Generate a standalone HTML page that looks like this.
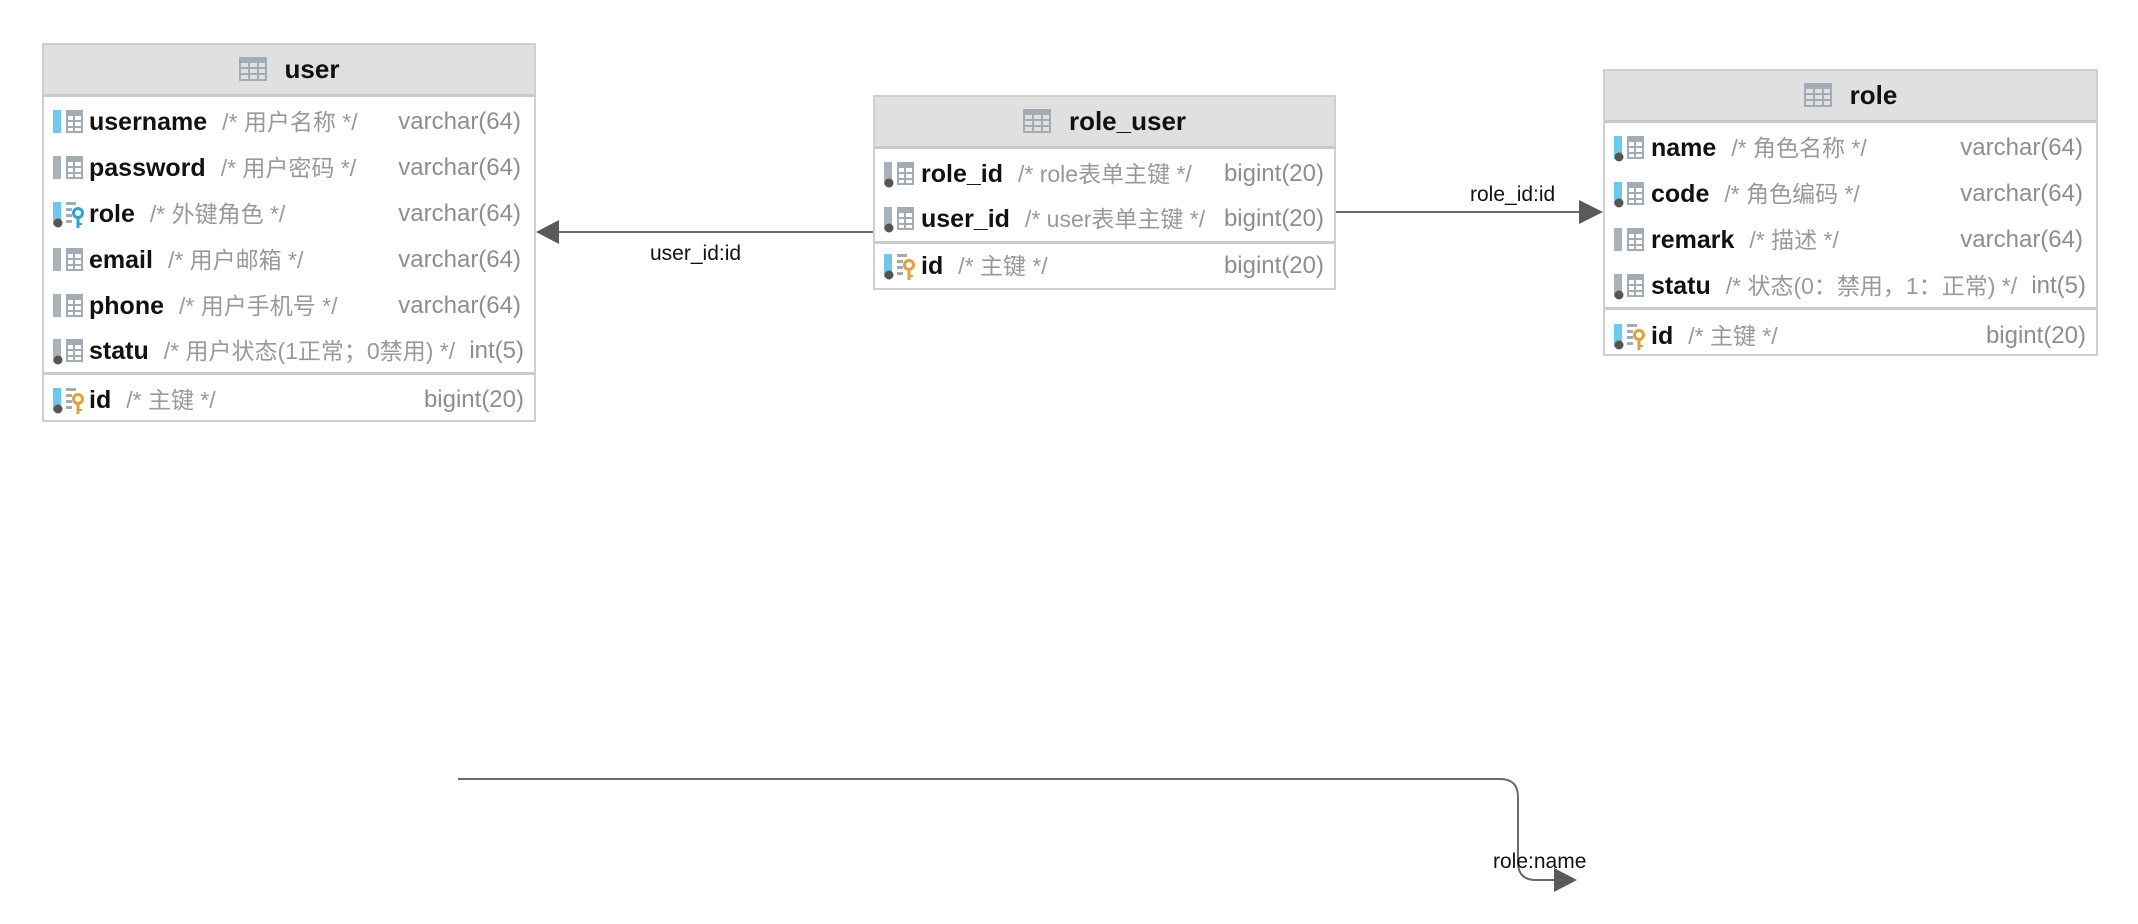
<!DOCTYPE html>
<html><head><meta charset="utf-8">
<style>
body{margin:0;width:2138px;height:924px;background:#fff;position:relative;overflow:hidden;font-family:"Liberation Sans","Noto Sans CJK SC",sans-serif;}
.t{position:absolute;border:2px solid #cfcfcf;background:#fff;box-sizing:border-box;}
.h{position:absolute;left:0;right:0;top:0;background:#e0e0e0;border-bottom:3px solid #c9c9c9;box-sizing:border-box;}
.ht{position:absolute;left:0;right:0;top:0;bottom:0;display:flex;align-items:center;justify-content:center;font-weight:bold;font-size:26px;color:#111;}
.ht svg{margin-right:16px}
.sep{position:absolute;left:0;right:0;height:3px;background:#cbcbcb;}
.r{position:absolute;left:0;right:0;height:30px;line-height:30px;font-size:24px;white-space:nowrap;}
.r svg{position:absolute;left:9px;top:3px;}
.n{position:absolute;font-weight:bold;color:#111;font-size:25px;}
.n i{font-style:normal;font-weight:normal;color:#999;margin-left:15px;font-size:23px;}
.ty{position:absolute;color:#8e8e8e;}
.lbl{position:absolute;font-size:21px;color:#111;font-family:"Liberation Sans",sans-serif;line-height:24px;}
</style></head><body>
<svg width="0" height="0" style="position:absolute">
<defs>
<symbol id="grid" viewBox="0 0 30 26"><rect x="12" y="0" width="17" height="23" fill="#a3acb4"/><rect x="14" y="6" width="5" height="4" fill="#fff"/><rect x="21" y="6" width="6" height="4" fill="#fff"/><rect x="14" y="12" width="5" height="4" fill="#fff"/><rect x="21" y="12" width="6" height="4" fill="#fff"/><rect x="14" y="18" width="5" height="3" fill="#fff"/><rect x="21" y="18" width="6" height="3" fill="#fff"/></symbol>
<symbol id="dot" viewBox="0 0 30 26"><circle cx="4" cy="21" r="4.5" fill="#555"/></symbol>
<symbol id="keyg" viewBox="0 0 30 26"><rect x="12" y="0" width="10" height="3" fill="#a3acb4"/><rect x="12" y="6" width="6" height="3" fill="#a3acb4"/><rect x="12" y="12" width="6" height="3" fill="#a3acb4"/><rect x="12" y="18" width="6" height="3" fill="#a3acb4"/></symbol>
<symbol id="hicon" viewBox="0 0 30 26"><rect x="0" y="0" width="28" height="24" fill="#a3acb4"/><rect x="2" y="6" width="7" height="4" fill="#e0e0e0"/><rect x="11" y="6" width="7" height="4" fill="#e0e0e0"/><rect x="20" y="6" width="6" height="4" fill="#e0e0e0"/><rect x="2" y="12" width="7" height="4" fill="#e0e0e0"/><rect x="11" y="12" width="7" height="4" fill="#e0e0e0"/><rect x="20" y="12" width="6" height="4" fill="#e0e0e0"/><rect x="2" y="18" width="7" height="4" fill="#e0e0e0"/><rect x="11" y="18" width="7" height="4" fill="#e0e0e0"/><rect x="20" y="18" width="6" height="4" fill="#e0e0e0"/></symbol>
</defs></svg>

<!-- user -->
<div class="t" style="left:42px;top:43px;width:494px;height:379px;">
 <div class="h" style="height:52px"><div class="ht"><svg width="30" height="26"><use href="#hicon"/></svg>user</div></div>
 <div class="r" style="top:62px"><svg width="32" height="26"><rect x="0" y="0" width="8" height="23" fill="#6ec8ea"/><use href="#grid"/></svg><span class="n" style="left:45px">username<i>/* 用户名称 */</i></span><span class="ty" style="right:13px">varchar(64)</span></div>
 <div class="r" style="top:108px"><svg width="32" height="26"><rect x="0" y="0" width="8" height="23" fill="#aab3ba"/><use href="#grid"/></svg><span class="n" style="left:45px">password<i>/* 用户密码 */</i></span><span class="ty" style="right:13px">varchar(64)</span></div>
 <div class="r" style="top:154px"><svg width="32" height="26"><rect x="0" y="0" width="8" height="23" fill="#6ec8ea"/><use href="#keyg"/><circle cx="25" cy="11" r="4.5" fill="none" stroke="#2aa4d8" stroke-width="3"/><rect x="23.5" y="15" width="3" height="11" fill="#2aa4d8"/><rect x="26" y="21" width="3" height="2" fill="#2aa4d8"/><use href="#dot"/></svg><span class="n" style="left:45px">role<i>/* 外键角色 */</i></span><span class="ty" style="right:13px">varchar(64)</span></div>
 <div class="r" style="top:200px"><svg width="32" height="26"><rect x="0" y="0" width="8" height="23" fill="#aab3ba"/><use href="#grid"/></svg><span class="n" style="left:45px">email<i>/* 用户邮箱 */</i></span><span class="ty" style="right:13px">varchar(64)</span></div>
 <div class="r" style="top:246px"><svg width="32" height="26"><rect x="0" y="0" width="8" height="23" fill="#aab3ba"/><use href="#grid"/></svg><span class="n" style="left:45px">phone<i>/* 用户手机号 */</i></span><span class="ty" style="right:13px">varchar(64)</span></div>
 <div class="r" style="top:291px"><svg width="32" height="26"><rect x="0" y="0" width="8" height="23" fill="#aab3ba"/><use href="#grid"/><use href="#dot"/></svg><span class="n" style="left:45px">statu<i>/* 用户状态(1正常；0禁用) */</i></span><span class="ty" style="right:10px">int(5)</span></div>
 <div class="sep" style="top:327px"></div>
 <div class="r" style="top:340px"><svg width="32" height="26"><rect x="0" y="0" width="8" height="23" fill="#6ec8ea"/><use href="#keyg"/><circle cx="25" cy="11" r="4.5" fill="none" stroke="#e0a23a" stroke-width="3"/><rect x="23.5" y="15" width="3" height="11" fill="#e0a23a"/><rect x="26" y="21" width="3" height="2" fill="#e0a23a"/><use href="#dot"/></svg><span class="n" style="left:45px">id<i>/* 主键 */</i></span><span class="ty" style="right:10px">bigint(20)</span></div>
</div>

<!-- role_user -->
<div class="t" style="left:873px;top:95px;width:463px;height:195px;">
 <div class="h" style="height:52px"><div class="ht"><svg width="30" height="26"><use href="#hicon"/></svg>role_user</div></div>
 <div class="r" style="top:62px"><svg width="32" height="26"><rect x="0" y="0" width="8" height="23" fill="#aab3ba"/><use href="#grid"/><use href="#dot"/></svg><span class="n" style="left:46px">role_id<i>/* role表单主键 */</i></span><span class="ty" style="right:10px">bigint(20)</span></div>
 <div class="r" style="top:107px"><svg width="32" height="26"><rect x="0" y="0" width="8" height="23" fill="#aab3ba"/><use href="#grid"/><use href="#dot"/></svg><span class="n" style="left:46px">user_id<i>/* user表单主键 */</i></span><span class="ty" style="right:10px">bigint(20)</span></div>
 <div class="sep" style="top:144px"></div>
 <div class="r" style="top:154px"><svg width="32" height="26"><rect x="0" y="0" width="8" height="23" fill="#6ec8ea"/><use href="#keyg"/><circle cx="25" cy="11" r="4.5" fill="none" stroke="#e0a23a" stroke-width="3"/><rect x="23.5" y="15" width="3" height="11" fill="#e0a23a"/><rect x="26" y="21" width="3" height="2" fill="#e0a23a"/><use href="#dot"/></svg><span class="n" style="left:46px">id<i>/* 主键 */</i></span><span class="ty" style="right:10px">bigint(20)</span></div>
</div>

<!-- role -->
<div class="t" style="left:1603px;top:69px;width:495px;height:287px;">
 <div class="h" style="height:52px"><div class="ht"><svg width="30" height="26"><use href="#hicon"/></svg>role</div></div>
 <div class="r" style="top:62px"><svg width="32" height="26"><rect x="0" y="0" width="8" height="23" fill="#6ec8ea"/><use href="#grid"/><use href="#dot"/></svg><span class="n" style="left:46px">name<i>/* 角色名称 */</i></span><span class="ty" style="right:13px">varchar(64)</span></div>
 <div class="r" style="top:108px"><svg width="32" height="26"><rect x="0" y="0" width="8" height="23" fill="#6ec8ea"/><use href="#grid"/><use href="#dot"/></svg><span class="n" style="left:46px">code<i>/* 角色编码 */</i></span><span class="ty" style="right:13px">varchar(64)</span></div>
 <div class="r" style="top:154px"><svg width="32" height="26"><rect x="0" y="0" width="8" height="23" fill="#aab3ba"/><use href="#grid"/></svg><span class="n" style="left:46px">remark<i>/* 描述 */</i></span><span class="ty" style="right:13px">varchar(64)</span></div>
 <div class="r" style="top:200px"><svg width="32" height="26"><rect x="0" y="0" width="8" height="23" fill="#aab3ba"/><use href="#grid"/><use href="#dot"/></svg><span class="n" style="left:46px">statu<i>/* 状态(0：禁用，1：正常) */</i></span><span class="ty" style="right:10px">int(5)</span></div>
 <div class="sep" style="top:236px"></div>
 <div class="r" style="top:250px"><svg width="32" height="26"><rect x="0" y="0" width="8" height="23" fill="#6ec8ea"/><use href="#keyg"/><circle cx="25" cy="11" r="4.5" fill="none" stroke="#e0a23a" stroke-width="3"/><rect x="23.5" y="15" width="3" height="11" fill="#e0a23a"/><rect x="26" y="21" width="3" height="2" fill="#e0a23a"/><use href="#dot"/></svg><span class="n" style="left:46px">id<i>/* 主键 */</i></span><span class="ty" style="right:10px">bigint(20)</span></div>
</div>

<svg width="2138" height="924" style="position:absolute;left:0;top:0;pointer-events:none">
 <line x1="873" y1="232" x2="556" y2="232" stroke="#6a6a6a" stroke-width="2"/>
 <polygon points="536,232 559,220 559,244" fill="#5a5a5a"/>
 <line x1="1336" y1="212" x2="1582" y2="212" stroke="#6a6a6a" stroke-width="2"/>
 <polygon points="1603,212 1579,200 1579,224" fill="#5a5a5a"/>
 <path d="M458 779 H1500 Q1518 779 1518 797 V862 Q1518 880 1536 880 H1556" fill="none" stroke="#6a6a6a" stroke-width="2"/>
 <polygon points="1577,880 1554,868 1554,892" fill="#5a5a5a"/>
</svg>
<div class="lbl" style="left:650px;top:242px">user_id:id</div>
<div class="lbl" style="left:1470px;top:183px">role_id:id</div>
<div class="lbl" style="left:1493px;top:850px">role:name</div>
</body></html>
